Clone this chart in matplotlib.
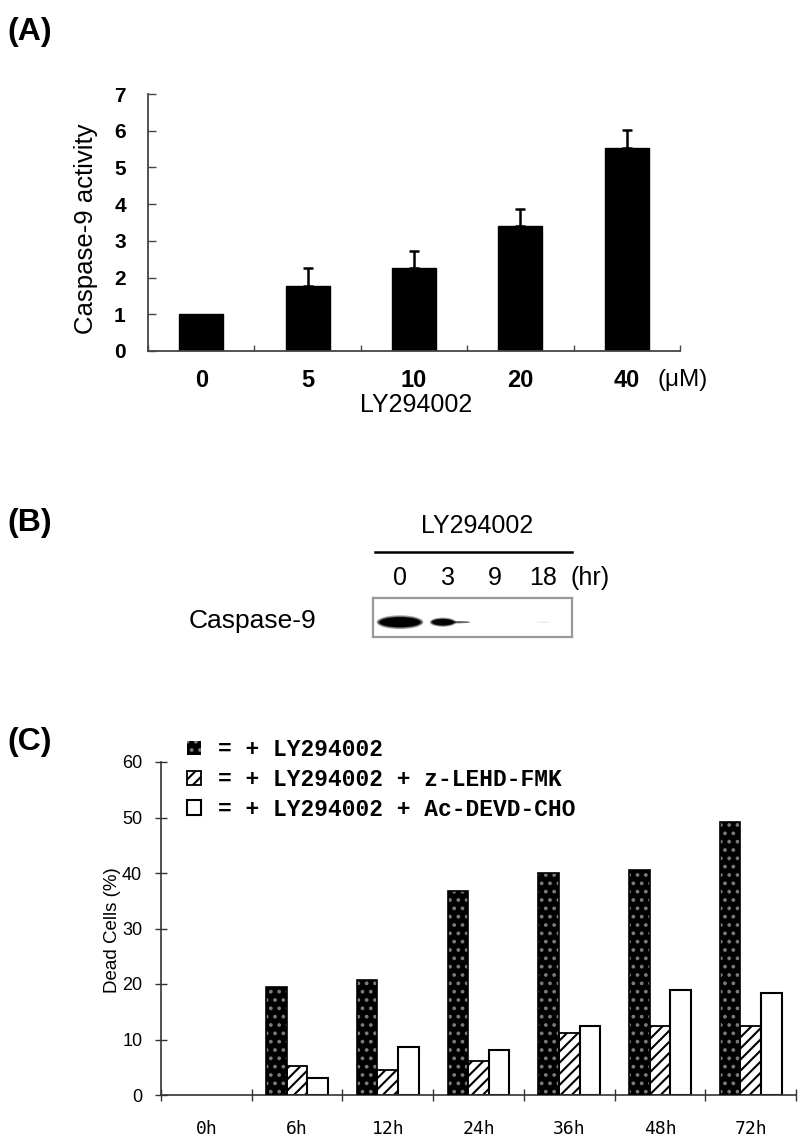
import numpy as np
import matplotlib
matplotlib.use("Agg")
import matplotlib.pyplot as plt
from matplotlib.patches import Ellipse

# ---------------- data ----------------
# Panel A
doses = ["0", "5", "10", "20", "40"]
casp9_activity = [1.0, 1.77, 2.26, 3.40, 5.53]
casp9_err = [0.0, 0.50, 0.46, 0.47, 0.49]

# Panel B (western blot)
blot_lanes = ["0", "3", "9", "18"]
band_intensity = [1.0, 0.65, 0.0, 0.05]

# Panel C
timepoints = ["0h", "6h", "12h", "24h", "36h", "48h", "72h"]
ly_only = [0, 19.4, 20.8, 36.7, 40.0, 40.5, 49.2]
ly_lehd = [0, 5.2, 4.5, 6.1, 11.1, 12.5, 12.5]
ly_devd = [0, 3.0, 8.6, 8.1, 12.5, 19.0, 18.3]
legend_labels = ["= + LY294002", "= + LY294002 + z-LEHD-FMK", "= + LY294002 + Ac-DEVD-CHO"]

W, H = 800, 1147
plt.rcParams['font.family'] = ['Liberation Sans', 'DejaVu Sans']
plt.rcParams['hatch.linewidth'] = 1.5
fig = plt.figure(figsize=(W / 100, H / 100), dpi=100)


def fx(px):
    return px / W


def fy(py):
    return 1 - py / H


def box(l, t, r, b):
    return [fx(l), fy(b), (r - l) / W, (b - t) / H]


# ---------------- Panel A ----------------
fig.text(fx(7), fy(32), "(A)", fontsize=23, fontweight='bold', va='center', ha='left')
axA = fig.add_axes(box(148, 94, 680, 351))
xa = np.arange(len(doses))
axA.bar(xa, casp9_activity, width=0.415, color='black', edgecolor='black', zorder=2)
err = np.array(casp9_err)
mask = err > 0
axA.errorbar(xa[mask], np.array(casp9_activity)[mask], yerr=[np.zeros(mask.sum()), err[mask]],
             fmt='none', ecolor='black', elinewidth=1.8, capsize=3.5, capthick=1.8, zorder=1)
axA.set_xlim(-0.5, len(doses) - 0.5)
axA.set_ylim(0, 7)
axA.set_yticks(range(0, 8))
axA.set_yticklabels([str(i) for i in range(8)], fontsize=15, fontweight='bold')
axA.set_xticks(xa)
axA.set_xticklabels(doses, fontsize=17, fontweight='bold')
axA.set_xticks(np.arange(-0.5, len(doses)), minor=True)
axA.tick_params(axis='x', which='major', length=0, pad=13)
axA.tick_params(axis='x', which='minor', direction='in', length=4, width=1, color='#444')
axA.tick_params(axis='y', direction='in', length=6, width=1, color='#444', pad=16)
for s in ['top', 'right']:
    axA.spines[s].set_visible(False)
for s in ['left', 'bottom']:
    axA.spines[s].set_color('#444')
    axA.spines[s].set_linewidth(1.3)
fig.text(fx(86), fy(229), "Caspase-9 activity", rotation=90, fontsize=18.5, va='center', ha='center')
fig.text(fx(683), fy(380), "(\u03bcM)", fontsize=17.5, va='center', ha='center')
fig.text(fx(416), fy(405), "LY294002", fontsize=18, va='center', ha='center')

# ---------------- Panel B ----------------
fig.text(fx(7), fy(523), "(B)", fontsize=23, fontweight='bold', va='center', ha='left')
fig.text(fx(477), fy(526), "LY294002", fontsize=18, va='center', ha='center')
fig.add_artist(plt.Line2D([fx(375), fx(572)], [fy(552), fy(552)], color='black', lw=1.8))
lane_px = [400, 448, 495, 543]
for lbl, px in zip(blot_lanes, lane_px):
    fig.text(fx(px), fy(578), lbl, fontsize=18, va='center', ha='center')
fig.text(fx(590), fy(578), "(hr)", fontsize=18, va='center', ha='center')
fig.text(fx(252), fy(621), "Caspase-9", fontsize=19, va='center', ha='center')

axB = fig.add_axes(box(373, 598, 572, 637))
step = 47.7
axB.set_xlim(-27 / step, 3 + 29 / step)
axB.set_ylim(0, 1)
axB.set_xticks([])
axB.set_yticks([])
for s in axB.spines.values():
    s.set_color('#999')
    s.set_linewidth(1.6)
yc = 0.38
for i, inten in enumerate(band_intensity):
    if inten <= 0:
        continue
    if inten >= 0.9:
        for k in range(6):
            f = 1 - k * 0.12
            axB.add_patch(Ellipse((i, yc), 0.98 * (0.75 + 0.25 * f), 0.36 * f,
                                  color='black', alpha=0.3, lw=0))
        axB.add_patch(Ellipse((i, yc), 0.85, 0.26, color='black', lw=0))
    elif inten > 0.2:
        for k in range(5):
            f = 1 - k * 0.15
            axB.add_patch(Ellipse((i - 0.1, yc), 0.55 * (0.7 + 0.3 * f), 0.24 * f,
                                  color='black', alpha=0.3, lw=0))
        axB.add_patch(Ellipse((i - 0.1, yc), 0.45, 0.17, color='black', alpha=0.9, lw=0))
        axB.add_patch(Ellipse((i + 0.15, yc), 0.65, 0.06, color='black', alpha=0.6, lw=0))
    else:
        axB.add_patch(Ellipse((i, yc), 0.3, 0.03, color='black', alpha=0.1, lw=0))

# ---------------- Panel C ----------------
fig.text(fx(7), fy(742), "(C)", fontsize=23, fontweight='bold', va='center', ha='left')
axC = fig.add_axes(box(161, 762, 796, 1095))
xc = np.arange(len(timepoints))
bw = 0.227
series = [np.array(ly_only, float), np.array(ly_lehd, float), np.array(ly_devd, float)]
offs = [-bw, 0, bw]
handles = []
for k, (vals, off) in enumerate(zip(series, offs)):
    m = vals > 0
    if k == 0:
        h = axC.bar(xc[m] + off, vals[m], width=bw, color='black', edgecolor='#7a7a7a',
                    hatch='..', linewidth=0, zorder=2)
        axC.bar(xc[m] + off, vals[m], width=bw, fill=False, edgecolor='black', linewidth=1.2, zorder=3)
    elif k == 1:
        h = axC.bar(xc[m] + off, vals[m], width=bw, color='white', edgecolor='black',
                    hatch='///', linewidth=1.3, zorder=2)
    else:
        h = axC.bar(xc[m] + off, vals[m], width=bw, color='white', edgecolor='black',
                    linewidth=1.5, zorder=2)
    handles.append(h)
axC.set_xlim(-0.5, len(timepoints) - 0.5)
axC.set_ylim(0, 60)
axC.set_yticks(range(0, 61, 10))
axC.set_yticklabels([str(v) for v in range(0, 61, 10)], fontsize=13)
axC.set_xticks(xc)
axC.set_xticklabels(timepoints, fontsize=13, family=['DejaVu Sans Mono'])
axC.set_xticks(np.arange(-0.5, len(timepoints)), minor=True)
axC.tick_params(axis='x', which='major', length=0, pad=18)
axC.tick_params(axis='x', which='minor', direction='inout', length=9, width=1, color='#333')
axC.tick_params(axis='y', direction='inout', length=9, width=1, color='#333', pad=9)
for s in ['top', 'right']:
    axC.spines[s].set_visible(False)
for s in ['left', 'bottom']:
    axC.spines[s].set_color('#333')
    axC.spines[s].set_linewidth(1.2)
fig.text(fx(113), fy(930), "Dead Cells (%)", rotation=90, fontsize=13.5, va='center', ha='center')

leg = fig.legend(handles, legend_labels, loc='upper left',
                 bbox_to_anchor=(fx(187), fy(738)), frameon=False,
                 prop={'family': 'Liberation Mono', 'weight': 'bold', 'size': 16.5},
                 handlelength=0.6, handleheight=0.6, handletextpad=0.75,
                 labelspacing=0.3, borderaxespad=0, borderpad=0)

fig.savefig("out.png", dpi=100)
